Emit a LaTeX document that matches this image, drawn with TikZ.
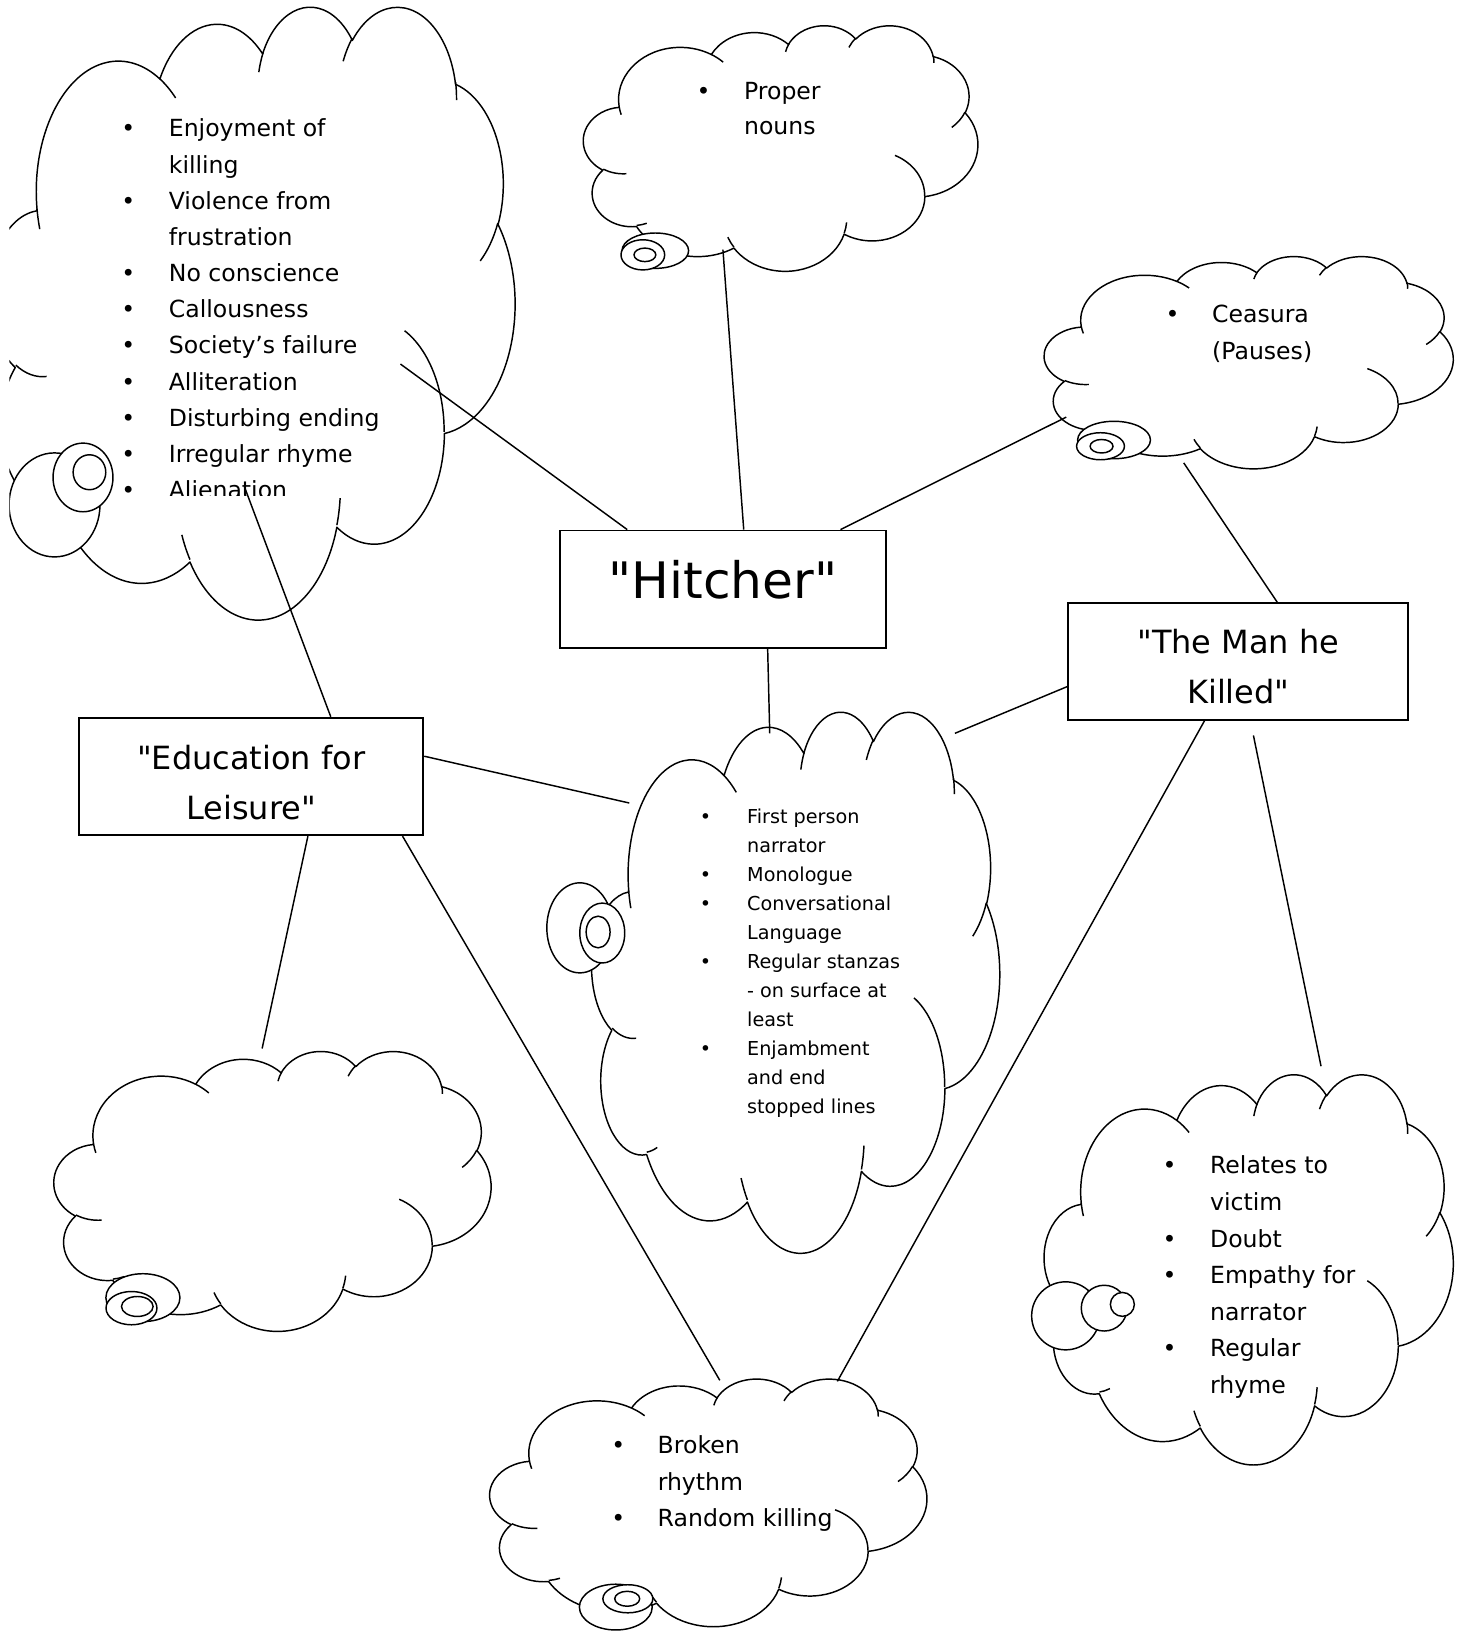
\documentclass[tikz,border=0pt]{standalone}
\usepackage{fontspec}
\setmainfont{DejaVu Sans}
\newlength\bw
\newcommand\bl{\makebox[\bw][l]{\textbullet}}
\newcommand\ind{\hspace*{\bw}}
\newcommand\qq{\textquotedbl}
\tikzset{
  cl/.style={line width=0.8pt, line join=round},
  conn/.style={line width=0.8pt},
  bub/.style={draw, line width=0.8pt, fill=white},
  boxnode/.style={draw, line width=1pt, fill=white, inner sep=0pt},
  txt/.style={inner sep=0pt, align=left, anchor=north west},
  warc/.style n args={4}{insert path={arc[x radius={(#1)/432*0.02cm}, y radius={(#2)/432*0.02cm},
    start angle={atan2((#1)*sin(#3),(#2)*cos(#3))},
    delta angle={mod(atan2((#1)*sin((#3)+(#4)),(#2)*cos((#3)+(#4)))-atan2((#1)*sin(#3),(#2)*cos(#3))-(#4)+900,360)-180+(#4)}]}}
}
% Word-style cloud: #1,#2 top-left, #3 width, #4 height (in picture units)
\newcommand\wcloud[4]{%
\begin{scope}[shift={(#1,#2)},xscale=#3/100,yscale=#4/100]
\draw[cl,fill=white] (9.028,33.264)
 [warc={6753}{9190}{-190.487}{123.781}]
 [warc={5333}{7267}{-144.102}{89.945}]
 [warc={4365}{5945}{-145.808}{99.723}]
 [warc={4857}{6595}{-130.986}{117.242}]
 [warc={5333}{7273}{-78.709}{109.027}]
 [warc={6775}{9220}{-46.267}{130.269}]
 [warc={5785}{7867}{0.625}{114.033}]
 [warc={6752}{9215}{22.452}{115.173}]
 [warc={7720}{10543}{66.243}{75.711}]
 [warc={4360}{5918}{-274.942}{146.736}]
 [warc={4345}{5945}{-246.829}{152.519}] -- cycle;
\draw[cl] (10.863,60.595) [warc={4345}{5945}{86.742}{26.430}]
 (16.037,80.785) [warc={4360}{5918}{73.610}{11.447}]
 (38.144,90.486) [warc={6752}{9215}{137.624}{14.081}]
 (66.729,80.442) [warc={6752}{9215}{6.453}{15.998}]
 (79.002,53.134) [warc={5785}{7867}{-70.292}{70.917}]
 (96.755,35.542) [warc={5333}{7273}{30.318}{27.752}]
 (88.713,12.560) [warc={4857}{6595}{-13.744}{14.857}]
 (67.310,9.148) [warc={4857}{6595}{-149.181}{18.190}]
 (51.252,10.926) [warc={4365}{5945}{-163.494}{17.691}]
 (32.407,12.019) [warc={6753}{9190}{-66.707}{12.319}]
 (9.553,36.549) [warc={6753}{9190}{157.654}{11.858}];
\end{scope}}
\newcommand\bubble[4]{\draw[bub] (#1,#2) ellipse [x radius=#3*0.02cm, y radius=#4*0.02cm];}
\begin{document}
\begin{tikzpicture}[x=0.02cm, y=0.02cm, yscale=-1]
\useasboundingbox (0,0) rectangle (1410,1568);
\fill[white] (0,0) rectangle (1410,1568);

% ---------- clouds ----------
\begin{scope}
  \clip (9,0) rectangle (700,700);
  \wcloud{-10}{5}{505}{589}
  \bubble{52.4}{485.4}{43.7}{50}
  \bubble{79.8}{459}{28.8}{33}
  \bubble{86}{454}{15.7}{16.8}
\end{scope}

\wcloud{561}{24}{379}{236}
\bubble{630}{241}{32}{17}
\bubble{618}{245}{21}{14.5}
\bubble{620}{245}{10.5}{6.5}

\wcloud{1004}{246}{393}{204}
\bubble{1071}{423}{35}{18}
\bubble{1058}{429}{23}{13}
\bubble{1059}{429}{11}{6.5}

\wcloud{569}{683}{392}{520}
\bubble{557.4}{892}{31.7}{43.3}
\bubble{579}{897}{21.6}{28.8}
\bubble{575}{896}{11.5}{15.2}

\wcloud{52}{1010}{420}{269}
\bubble{137.4}{1247.5}{35.6}{23}
\bubble{126.4}{1257.6}{24.5}{16}
\bubble{132}{1256}{15.2}{9.6}

\wcloud{1004}{1032}{393}{375}
\bubble{1024.5}{1265}{32.7}{32.7}
\bubble{1061.5}{1257.6}{22}{22}
\bubble{1079}{1254}{11.5}{11.5}

\wcloud{471}{1325}{420}{238}
\bubble{592}{1545}{35}{22}
\bubble{603.6}{1537}{24}{13.5}
\bubble{603}{1537}{12}{7.2}

% ---------- boxes ----------
\node[boxnode, minimum width=6.28cm, minimum height=2.26cm,
      font=\fontsize{27.5}{33}\selectfont] (hitcher) at (695,566.5)
      {\raisebox{5.4pt}[\height][\depth]{\qq Hitcher\qq}};
\node[boxnode, minimum width=6.54cm, minimum height=2.24cm,
      font=\fontsize{17.5}{27.3}\selectfont] (man) at (1190.5,636)
      {\raisebox{-3.8pt}[\height][\depth]{\begin{tabular}{@{}c@{}}\qq The Man he\\Killed\qq\end{tabular}}};
\node[boxnode, minimum width=6.62cm, minimum height=2.26cm,
      font=\fontsize{17.5}{27.3}\selectfont] (edu) at (241.5,746.5)
      {\raisebox{-4.4pt}[\height][\depth]{\begin{tabular}{@{}c@{}}\qq Education for\\Leisure\qq\end{tabular}}};

% ---------- connector end points on clouds ----------
\coordinate (pnT) at (695,240);
\coordinate (lc1) at (385,350);
\coordinate (cs1) at (1025,401);
\coordinate (cc1) at (740,705);
\coordinate (cs2) at (1138,445);
\coordinate (cc2) at (918,705);
\coordinate (bc1) at (805,1328);
\coordinate (m8)  at (1205,707);
\coordinate (rc1) at (1270,1025);
\coordinate (lc2) at (235,468);
\coordinate (cc3) at (605,772);
\coordinate (bl1) at (252,1008);
\coordinate (bc2) at (692,1327);

% ---------- connectors ----------
\draw[conn] (hitcher.north -| 715,0) -- (pnT);
\draw[conn] (hitcher.north -| 603,0) -- (lc1);
\draw[conn] (hitcher.north -| 808,0) -- (cs1);
\draw[conn] (hitcher.south -| 738,0) -- (cc1);
\draw[conn] (man.north -| 1228,0) -- (cs2);
\draw[conn] (man.west |- 0,660) -- (cc2);
\draw[conn] (man.south -| 1158,0) -- (bc1);
\draw[conn] (m8) -- (rc1);
\draw[conn] (edu.north -| 318,0) -- (lc2);
\draw[conn] (edu.east |- 0,727) -- (cc3);
\draw[conn] (edu.south -| 296,0) -- (bl1);
\draw[conn] (edu.south -| 387,0) -- (bc2);

% ---------- cloud texts ----------
\begin{scope}
  \clip (0,0) rectangle (700,476);
  \setlength\bw{0.914cm}
  \node[txt, font=\fontsize{12.9}{19.8}\selectfont] (lct) at (116.3,114)
   {\bl Enjoyment of\\\ind killing\\\bl Violence from\\\ind frustration\\\bl No conscience\\\bl Callousness\\\bl Society's failure\\\bl Alliteration\\\bl Disturbing ending\\\bl Irregular rhyme\\\bl Alienation};
\end{scope}

\setlength\bw{0.914cm}
\node[txt, font=\fontsize{12.9}{19.35}\selectfont] (pnt) at (669.3,78.6)
  {\bl Proper\\\ind nouns};

\setlength\bw{0.894cm}
\node[txt, font=\fontsize{12.9}{19.9}\selectfont] (cst) at (1120.3,293)
  {\bl Ceasura\\\ind (Pauses)};

\setlength\bw{0.908cm}
\node[txt, font=\fontsize{10.5}{15.88}\selectfont] (cct) at (672.6,777)
  {\bl First person\\\ind narrator\\\bl Monologue\\\bl Conversational\\\ind Language\\\bl Regular stanzas\\\ind - on surface at\\\ind least\\\bl Enjambment\\\ind and end\\\ind stopped lines};

\setlength\bw{0.914cm}
\node[txt, font=\fontsize{12.9}{20}\selectfont] (rct) at (1117.3,1111)
  {\bl Relates to\\\ind victim\\\bl Doubt\\\bl Empathy for\\\ind narrator\\\bl Regular\\\ind rhyme};

\setlength\bw{0.894cm}
\node[txt, font=\fontsize{12.9}{19.9}\selectfont] (bct) at (587.3,1380)
  {\bl Broken\\\ind rhythm\\\bl Random killing};
\end{tikzpicture}
\end{document}
